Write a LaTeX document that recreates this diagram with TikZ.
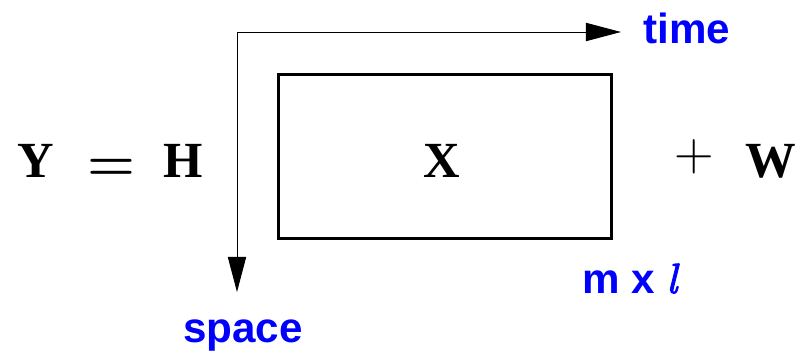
\documentclass[tikz,border=0pt]{standalone}
\usepackage{fontspec}
\setmainfont{Liberation Serif}
\setsansfont{Liberation Sans}
\newfontfamily\lmfont{Latin Modern Roman}
\newfontfamily\curlfont{lmroman10-italic.otf}[FakeBold=2.5]
\usetikzlibrary{arrows.meta}
\definecolor{lblue}{HTML}{0000FF}

\begin{document}
\begin{tikzpicture}[
    sym/.style={inner sep=0pt, anchor=base, font=\fontsize{36}{40}\selectfont\bfseries},
    oper/.style={inner sep=0pt, anchor=base, font=\fontsize{39}{42}\selectfont\lmfont},
    lbl/.style={inner sep=0pt, text=lblue, font=\fontsize{30}{33}\selectfont\sffamily\bfseries},
    mat/.style={draw, line width=2.2pt, minimum width=8.325cm, minimum height=4.1cm},
    arr/.style={-{Triangle[length=25pt, width=13pt]}, line width=0.7pt}
]
  \useasboundingbox (0,0) rectangle (20,8.85);
  % equation
  \node[sym] (y) at (0.9,4.425) {Y};
  \node[oper] (eq) at (2.78,4.33) {\bfseries =};
  \node[sym] (h) at (4.59,4.425) {H};
  \node[mat] (mat) at (11.125,4.9375) {};
  \node[sym] (x) at (11.05,4.425) {X};
  \node[oper] (plus) at (17.35,4.58) {+};
  \node[sym] (w) at (19.275,4.425) {W};
  % axes
  \coordinate (orig) at (5.925,8.05);
  \coordinate (tend) at (15.525,8.05);
  \coordinate (send) at (5.925,1.55);
  \draw[arr] (orig) -- (tend);
  \draw[arr] (orig) -- (send);
  \node[lbl, anchor=base west] (time) at (16.075,7.775) {time};
  \node[lbl, anchor=base] (space) at (6.075,0.3) {space};
  \node[lbl, anchor=base] (size) at (15.74,1.525) {m x {\curlfont\mdseries l}};
\end{tikzpicture}
\end{document}
